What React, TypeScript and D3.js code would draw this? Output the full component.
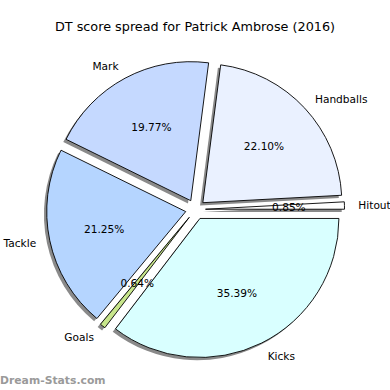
import React, { useRef, useEffect } from 'react';
import * as d3 from 'd3';

const categories = ['Hitout', 'Handballs', 'Mark', 'Tackle', 'Goals', 'Kicks'];
const shares = [0.85, 22.1, 19.77, 21.25, 0.64, 35.39];
const colors = ['#ffffff', '#eaf1ff', '#c5d9ff', '#b5d5ff', '#c8e68c', '#d9ffff'];
const title = 'DT score spread for Patrick Ambrose (2016)';

const App: React.FC = () => {
  const svgRef = useRef<SVGSVGElement>(null);

  useEffect(() => {
    if (!svgRef.current) return;
    document.body.style.margin = '0';
    const svg = d3.select(svgRef.current);
    svg.selectAll('*').remove();

    const width = 390;
    const height = 390;
    const cx = 195.5;
    const cy = 209.5;
    const r = 139;
    const explode = 10;
    const shadowOff = 0.02 * r;
    const font = 'DejaVu Sans, sans-serif';

    svg.attr('width', width).attr('height', height);

    // title
    svg
      .append('text')
      .attr('x', width / 2)
      .attr('y', 26)
      .attr('text-anchor', 'middle')
      .attr('dominant-baseline', 'central')
      .style('font-family', font)
      .style('font-size', '12.8px')
      .text(title);

    // matplotlib style: counterclockwise from 3 o'clock
    const pie = d3
      .pie<number>()
      .sort(null)
      .value((d) => d)
      .startAngle(Math.PI / 2)
      .endAngle(Math.PI / 2 - 2 * Math.PI);

    const slices = pie(shares);
    const arc = d3.arc<d3.PieArcDatum<number>>().innerRadius(0).outerRadius(r);

    const dir = (d: d3.PieArcDatum<number>) => {
      const a = (d.startAngle + d.endAngle) / 2;
      return [Math.sin(a), -Math.cos(a)];
    };

    const g = svg.append('g').attr('transform', `translate(${cx},${cy})`);

    // shadows
    g.selectAll('.shadow')
      .data(slices)
      .enter()
      .append('path')
      .attr('class', 'shadow')
      .attr('transform', (d) => {
        const [dx, dy] = dir(d);
        return `translate(${dx * explode - shadowOff},${dy * explode + shadowOff})`;
      })
      .attr('d', arc)
      .attr('fill', '#8a8a8a');

    // wedges
    g.selectAll('.wedge')
      .data(slices)
      .enter()
      .append('path')
      .attr('class', 'wedge')
      .attr('transform', (d) => {
        const [dx, dy] = dir(d);
        return `translate(${dx * explode},${dy * explode})`;
      })
      .attr('d', arc)
      .attr('fill', (d, i) => colors[i])
      .attr('stroke', '#000')
      .attr('stroke-width', 0.9)
      .attr('stroke-linejoin', 'miter');

    // category labels
    g.selectAll('.label')
      .data(slices)
      .enter()
      .append('text')
      .attr('class', 'label')
      .attr('x', (d) => dir(d)[0] * (explode + 1.1 * r))
      .attr('y', (d) => dir(d)[1] * (explode + 1.1 * r))
      .attr('text-anchor', (d) => (dir(d)[0] > 0 ? 'start' : 'end'))
      .attr('dominant-baseline', 'central')
      .style('font-family', font)
      .style('font-size', '10.6px')
      .text((d, i) => categories[i]);

    // percent labels
    g.selectAll('.pct')
      .data(slices)
      .enter()
      .append('text')
      .attr('class', 'pct')
      .attr('x', (d) => dir(d)[0] * (explode + 0.6 * r))
      .attr('y', (d) => dir(d)[1] * (explode + 0.6 * r))
      .attr('text-anchor', 'middle')
      .attr('dominant-baseline', 'central')
      .style('font-family', font)
      .style('font-size', '10.6px')
      .text((d) => `${d.data.toFixed(2)}%`);

    // watermark
    svg
      .append('text')
      .attr('x', 0)
      .attr('y', 380)
      .attr('dominant-baseline', 'central')
      .style('font-family', font)
      .style('font-size', '10.8px')
      .style('font-weight', 'bold')
      .attr('fill', '#9a9a9a')
      .text('Dream-Stats.com');
  }, []);

  return <svg ref={svgRef} style={{ display: 'block' }}></svg>;
};

export default App;
